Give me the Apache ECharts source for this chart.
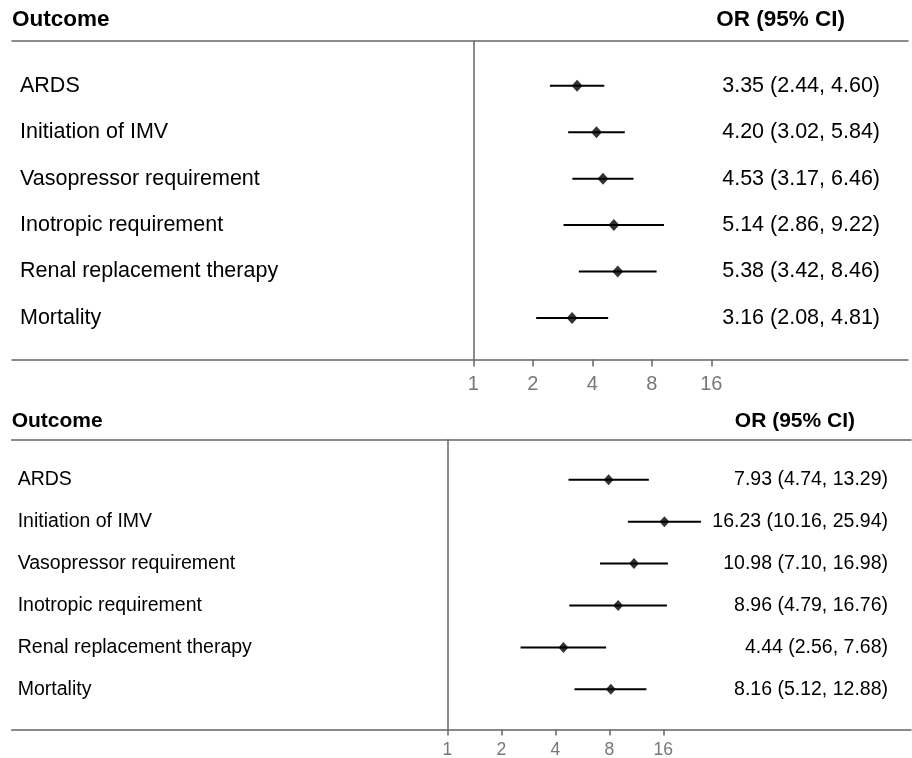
<!DOCTYPE html>
<html>
<head>
<meta charset="utf-8">
<script src="https://cdn.jsdelivr.net/npm/echarts@6/dist/echarts.min.js"></script>
<style>
html,body{margin:0;padding:0;background:#fff;}
#chart{width:912px;height:758px;}
</style>
</head>
<body>
<div id="chart"></div>
<script>
// ---- data ----
const outcomes = ['ARDS', 'Initiation of IMV', 'Vasopressor requirement', 'Inotropic requirement', 'Renal replacement therapy', 'Mortality'];
const topOR = [3.35, 4.20, 4.53, 5.14, 5.38, 3.16];
const topLo = [2.44, 3.02, 3.17, 2.86, 3.42, 2.08];
const topHi = [4.60, 5.84, 6.46, 9.22, 8.46, 4.81];
const botOR = [7.93, 16.23, 10.98, 8.96, 4.44, 8.16];
const botLo = [4.74, 10.16, 7.10, 4.79, 2.56, 5.12];
const botHi = [13.29, 25.94, 16.98, 16.76, 7.68, 12.88];
const tickValues = [1, 2, 4, 8, 16];
const headerLeft = 'Outcome';
const headerRight = 'OR (95% CI)';

// ---- layout / style ----
const FONT = '"Liberation Sans", Arial, Helvetica, sans-serif';
const AXIS_COLOR = '#666666';
const TICK_LABEL_COLOR = '#777777';
const W = 912, H = 758;

const panels = [
  { or: topOR, lo: topLo, hi: topHi,
    left: 12, right: 908, top: 40.7, bottom: 359.5,
    x1: 473.3, pxPerDoubling: 59.5, row1: 85.8, rowStep: 46.44,
    labelFont: 21.5, tickFont: 20, tickLen: 7, tickMargin: 15,
    labelMargin: 8, valueMargin: 28, symbol: [11, 12], ciWidth: 2,
    headerFont: 22.5, headerY: 20, headerRightX: 845 },
  { or: botOR, lo: botLo, hi: botHi,
    left: 11.7, right: 911, top: 439.3, bottom: 729.5,
    x1: 447.3, pxPerDoubling: 54, row1: 479.8, rowStep: 41.9,
    labelFont: 19.5, tickFont: 17.5, tickLen: 6, tickMargin: 12,
    labelMargin: 6, valueMargin: 23, symbol: [10, 11], ciWidth: 2,
    headerFont: 21, headerY: 421.5, headerRightX: 855 }
];

const grid = [], xAxis = [], yAxis = [], series = [], graphic = [];
const rowIdx = outcomes.map((_, i) => i + 1);

panels.forEach((p, k) => {
  const xmin = (p.left - p.x1) / p.pxPerDoubling;
  const xmax = (p.right - p.x1) / p.pxPerDoubling;
  const ymin = 1 - (p.row1 - p.top) / p.rowStep;
  const ymax = ymin + (p.bottom - p.top) / p.rowStep;
  const valueText = p.or.map((v, i) => v.toFixed(2) + ' (' + p.lo[i].toFixed(2) + ', ' + p.hi[i].toFixed(2) + ')');
  grid.push({ left: p.left, top: p.top, width: p.right - p.left, height: p.bottom - p.top,
    containLabel: false, outerBoundsMode: 'none' });
  const tickLog = tickValues.map(v => Math.log2(v));
  xAxis.push({
    type: 'value', gridIndex: k, position: 'bottom', min: xmin, max: xmax,
    axisLine: { show: true, onZero: false, lineStyle: { color: AXIS_COLOR, width: 1.5 } },
    axisTick: { show: true, customValues: tickLog, length: p.tickLen, lineStyle: { color: AXIS_COLOR, width: 1.5 } },
    axisLabel: { show: true, customValues: tickLog, margin: p.tickMargin, color: TICK_LABEL_COLOR,
      fontSize: p.tickFont, fontFamily: FONT, formatter: v => String(Math.round(Math.pow(2, v))) },
    splitLine: { show: false }
  });
  xAxis.push({
    type: 'value', gridIndex: k, position: 'top', min: xmin, max: xmax,
    axisLine: { show: true, onZero: false, lineStyle: { color: AXIS_COLOR, width: 1.5 } },
    axisTick: { show: false }, axisLabel: { show: false }, splitLine: { show: false }
  });
  yAxis.push({
    type: 'value', gridIndex: k, position: 'left', inverse: true, min: ymin, max: ymax,
    axisLine: { show: false, onZero: false }, axisTick: { show: false }, splitLine: { show: false },
    axisLabel: { show: true, inside: true, customValues: rowIdx, margin: p.labelMargin, color: '#000',
      fontSize: p.labelFont, fontFamily: FONT, formatter: v => outcomes[Math.round(v) - 1] || '' }
  });
  yAxis.push({
    type: 'value', gridIndex: k, position: 'right', inverse: true, min: ymin, max: ymax,
    axisLine: { show: false, onZero: false }, axisTick: { show: false }, splitLine: { show: false },
    axisLabel: { show: true, inside: true, customValues: rowIdx, margin: p.valueMargin, color: '#000',
      fontSize: p.labelFont, fontFamily: FONT, formatter: v => valueText[Math.round(v) - 1] || '' }
  });
  const xi = k * 2, yi = k * 2;
  series.push({
    type: 'custom', xAxisIndex: xi, yAxisIndex: yi, silent: true, animation: false,
    data: p.lo.map((lo, i) => [Math.log2(lo), Math.log2(p.hi[i]), i + 1]),
    encode: { x: [0, 1], y: 2 },
    renderItem: (params, api) => {
      const a = api.coord([api.value(0), api.value(2)]);
      const b = api.coord([api.value(1), api.value(2)]);
      return { type: 'line', shape: { x1: a[0], y1: a[1], x2: b[0], y2: b[1] },
        style: { stroke: '#000', lineWidth: p.ciWidth } };
    }
  });
  series.push({
    type: 'scatter', xAxisIndex: xi, yAxisIndex: yi, silent: true, animation: false,
    symbol: 'diamond', symbolSize: p.symbol, itemStyle: { color: '#000' }, z: 5,
    data: p.or.map((v, i) => [Math.log2(v), i + 1]),
    markLine: { silent: true, symbol: ['none', 'none'], animation: false, label: { show: false },
      lineStyle: { color: AXIS_COLOR, width: 1.5, type: 'solid' },
      data: [{ xAxis: Math.log2(tickValues[0]) }] }
  });
  graphic.push({ type: 'text', x: p.left, y: p.headerY, silent: true,
    style: { text: headerLeft, fill: '#000', font: 'bold ' + p.headerFont + 'px ' + FONT, textAlign: 'left', textVerticalAlign: 'middle' } });
  graphic.push({ type: 'text', x: p.headerRightX, y: p.headerY, silent: true,
    style: { text: headerRight, fill: '#000', font: 'bold ' + p.headerFont + 'px ' + FONT, textAlign: 'right', textVerticalAlign: 'middle' } });
});

const chart = echarts.init(document.getElementById('chart'), null, { renderer: 'canvas', width: W, height: H });
chart.setOption({ animation: false, backgroundColor: '#fff', grid, xAxis, yAxis, series, graphic });
</script>
</body>
</html>
